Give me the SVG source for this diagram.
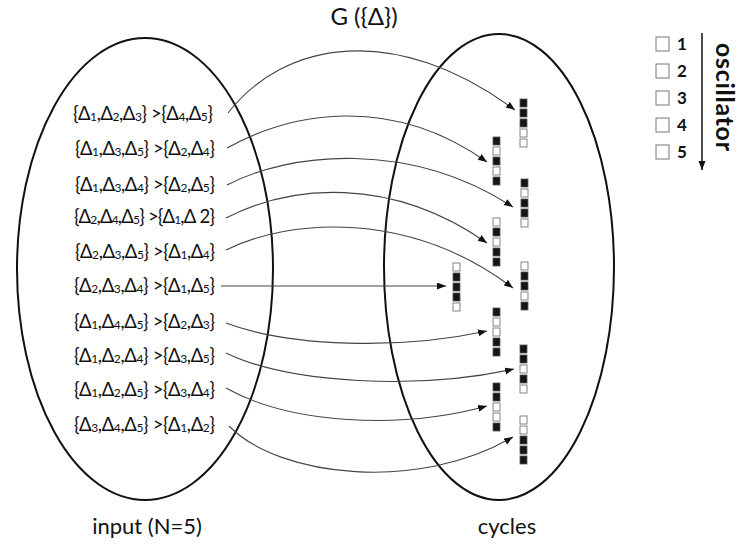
<svg xmlns="http://www.w3.org/2000/svg" xmlns:xlink="http://www.w3.org/1999/xlink" width="740" height="549" viewBox="0 0 740 549">
<style>
text{font-family:Lato,"Noto Sans","DejaVu Sans",sans-serif;fill:#111}
.f{font-size:18.5px}
.s{font-size:12px}
.lbl{font-size:22px}
.ttl{font-size:24px}
.dig{font-size:17px;font-weight:700}
.osc{font-size:25px;font-weight:700}
.ell{fill:none;stroke:#111;stroke-width:2}
.con path{fill:none;stroke:#444;stroke-width:1.1;marker-end:url(#ah)}
.k{fill:#151515;stroke:#555;stroke-width:0.8}
.w{fill:#fff;stroke:#666;stroke-width:0.8}
.lg{fill:#fff;stroke:#777;stroke-width:1}
</style>
<defs>
<marker id="ah" markerUnits="userSpaceOnUse" markerWidth="10" markerHeight="8" refX="9" refY="3.5" orient="auto"><path d="M0,0 L9,3.5 L0,7 z" fill="#111"/></marker>
<marker id="ah2" markerUnits="userSpaceOnUse" markerWidth="10" markerHeight="8" refX="9" refY="3.5" orient="auto"><path d="M0,0 L9,3.5 L0,7 z" fill="#111"/></marker>
<rect id="B" class="k" width="7" height="8"/>
<rect id="W" class="w" width="7" height="8"/>
</defs>

<text class="ttl" x="364" y="25" text-anchor="middle">G ({Δ})</text>

<ellipse id="input-set" class="ell" cx="145" cy="269" rx="128" ry="231"/>
<ellipse id="cycle-set" class="ell" cx="499" cy="267" rx="115" ry="233"/>

<text class="lbl" x="147" y="534" text-anchor="middle">input (N=5)</text>
<text class="lbl" x="507" y="534" text-anchor="middle">cycles</text>

<g id="inputs">
<g id="in1"><text class="f" x="73" y="120" textLength="140">{Δ<tspan class="s" dy="1">1</tspan><tspan dy="-1">,Δ</tspan><tspan class="s" dy="1">2</tspan><tspan dy="-1">,Δ</tspan><tspan class="s" dy="1">3</tspan><tspan dy="-1">} &gt;{Δ</tspan><tspan class="s" dy="1">4</tspan><tspan dy="-1">,Δ</tspan><tspan class="s" dy="1">5</tspan><tspan dy="-1">}</tspan></text></g>
<g id="in2"><text class="f" x="75" y="155" textLength="140">{Δ<tspan class="s" dy="1">1</tspan><tspan dy="-1">,Δ</tspan><tspan class="s" dy="1">3</tspan><tspan dy="-1">,Δ</tspan><tspan class="s" dy="1">5</tspan><tspan dy="-1">} &gt;{Δ</tspan><tspan class="s" dy="1">2</tspan><tspan dy="-1">,Δ</tspan><tspan class="s" dy="1">4</tspan><tspan dy="-1">}</tspan></text></g>
<g id="in3"><text class="f" x="75" y="191" textLength="140">{Δ<tspan class="s" dy="1">1</tspan><tspan dy="-1">,Δ</tspan><tspan class="s" dy="1">3</tspan><tspan dy="-1">,Δ</tspan><tspan class="s" dy="1">4</tspan><tspan dy="-1">} &gt;{Δ</tspan><tspan class="s" dy="1">2</tspan><tspan dy="-1">,Δ</tspan><tspan class="s" dy="1">5</tspan><tspan dy="-1">}</tspan></text></g>
<g id="in4"><text class="f" x="74" y="223" textLength="141">{Δ<tspan class="s" dy="1">2</tspan><tspan dy="-1">,Δ</tspan><tspan class="s" dy="1">4</tspan><tspan dy="-1">,Δ</tspan><tspan class="s" dy="1">5</tspan><tspan dy="-1">} &gt;{Δ</tspan><tspan class="s" dy="1">1</tspan><tspan dy="-1">,Δ 2}</tspan></text></g>
<g id="in5"><text class="f" x="75" y="258" textLength="140">{Δ<tspan class="s" dy="1">2</tspan><tspan dy="-1">,Δ</tspan><tspan class="s" dy="1">3</tspan><tspan dy="-1">,Δ</tspan><tspan class="s" dy="1">5</tspan><tspan dy="-1">} &gt;{Δ</tspan><tspan class="s" dy="1">1</tspan><tspan dy="-1">,Δ</tspan><tspan class="s" dy="1">4</tspan><tspan dy="-1">}</tspan></text></g>
<g id="in6"><text class="f" x="74" y="292" textLength="141">{Δ<tspan class="s" dy="1">2</tspan><tspan dy="-1">,Δ</tspan><tspan class="s" dy="1">3</tspan><tspan dy="-1">,Δ</tspan><tspan class="s" dy="1">4</tspan><tspan dy="-1">} &gt;{Δ</tspan><tspan class="s" dy="1">1</tspan><tspan dy="-1">,Δ</tspan><tspan class="s" dy="1">5</tspan><tspan dy="-1">}</tspan></text></g>
<g id="in7"><text class="f" x="74" y="328" textLength="141">{Δ<tspan class="s" dy="1">1</tspan><tspan dy="-1">,Δ</tspan><tspan class="s" dy="1">4</tspan><tspan dy="-1">,Δ</tspan><tspan class="s" dy="1">5</tspan><tspan dy="-1">} &gt;{Δ</tspan><tspan class="s" dy="1">2</tspan><tspan dy="-1">,Δ</tspan><tspan class="s" dy="1">3</tspan><tspan dy="-1">}</tspan></text></g>
<g id="in8"><text class="f" x="74" y="362" textLength="141">{Δ<tspan class="s" dy="1">1</tspan><tspan dy="-1">,Δ</tspan><tspan class="s" dy="1">2</tspan><tspan dy="-1">,Δ</tspan><tspan class="s" dy="1">4</tspan><tspan dy="-1">} &gt;{Δ</tspan><tspan class="s" dy="1">3</tspan><tspan dy="-1">,Δ</tspan><tspan class="s" dy="1">5</tspan><tspan dy="-1">}</tspan></text></g>
<g id="in9"><text class="f" x="74" y="396" textLength="141">{Δ<tspan class="s" dy="1">1</tspan><tspan dy="-1">,Δ</tspan><tspan class="s" dy="1">2</tspan><tspan dy="-1">,Δ</tspan><tspan class="s" dy="1">5</tspan><tspan dy="-1">} &gt;{Δ</tspan><tspan class="s" dy="1">3</tspan><tspan dy="-1">,Δ</tspan><tspan class="s" dy="1">4</tspan><tspan dy="-1">}</tspan></text></g>
<g id="in10"><text class="f" x="74" y="431" textLength="141">{Δ<tspan class="s" dy="1">3</tspan><tspan dy="-1">,Δ</tspan><tspan class="s" dy="1">4</tspan><tspan dy="-1">,Δ</tspan><tspan class="s" dy="1">5</tspan><tspan dy="-1">} &gt;{Δ</tspan><tspan class="s" dy="1">1</tspan><tspan dy="-1">,Δ</tspan><tspan class="s" dy="1">2</tspan><tspan dy="-1">}</tspan></text></g>
</g>

<g id="cycles">
<g id="cA1" transform="translate(520,99)"><use href="#B"/><use href="#B" y="10"/><use href="#B" y="20"/><use href="#W" y="30"/><use href="#W" y="40"/></g>
<g id="cB1" transform="translate(493,137)"><use href="#B"/><use href="#W" y="10"/><use href="#B" y="20"/><use href="#W" y="30"/><use href="#B" y="40"/></g>
<g id="cA2" transform="translate(521,179)"><use href="#B"/><use href="#W" y="10"/><use href="#B" y="20"/><use href="#B" y="30"/><use href="#W" y="40"/></g>
<g id="cB2" transform="translate(493,218)"><use href="#W"/><use href="#B" y="10"/><use href="#W" y="20"/><use href="#B" y="30"/><use href="#B" y="40"/></g>
<g id="cA3" transform="translate(521,262)"><use href="#W"/><use href="#B" y="10"/><use href="#B" y="20"/><use href="#W" y="30"/><use href="#B" y="40"/></g>
<g id="cC" transform="translate(453,263)"><use href="#W"/><use href="#B" y="10"/><use href="#B" y="20"/><use href="#B" y="30"/><use href="#W" y="40"/></g>
<g id="cB3" transform="translate(493,308)"><use href="#B"/><use href="#W" y="10"/><use href="#W" y="20"/><use href="#B" y="30"/><use href="#B" y="40"/></g>
<g id="cA4" transform="translate(520,345)"><use href="#B"/><use href="#B" y="10"/><use href="#W" y="20"/><use href="#B" y="30"/><use href="#W" y="40"/></g>
<g id="cB4" transform="translate(493,383)"><use href="#B"/><use href="#B" y="10"/><use href="#W" y="20"/><use href="#W" y="30"/><use href="#B" y="40"/></g>
<g id="cA5" transform="translate(520,416)"><use href="#W"/><use href="#W" y="10"/><use href="#B" y="20"/><use href="#B" y="30"/><use href="#B" y="40"/></g>
</g>

<g id="connectors" class="con">
<path d="M228,113 C285,40 396,22 515,110"/>
<path d="M227,148 C290,113 390,93 487,162"/>
<path d="M227,185 C290,152 410,140 513,207"/>
<path d="M226,218 C290,185 390,175 487,243"/>
<path d="M226,250 C290,218 410,210 513,288"/>
<path d="M221,286 L446,286"/>
<path d="M226,323 C290,347 400,350 487,331"/>
<path d="M226,353 C290,384 420,390 514,369"/>
<path d="M226,388 C290,424 400,430 487,406"/>
<path d="M229,426 C280,478 420,492 513,437"/>
</g>

<g id="legend">
<rect class="lg" x="656" y="37" width="13" height="14"/>
<rect class="lg" x="656" y="64" width="13" height="14"/>
<rect class="lg" x="656" y="91" width="13" height="14"/>
<rect class="lg" x="656" y="118" width="13" height="14"/>
<rect class="lg" x="656" y="145" width="13" height="14"/>
<text class="dig" x="677" y="50">1</text>
<text class="dig" x="677" y="77">2</text>
<text class="dig" x="677" y="104">3</text>
<text class="dig" x="677" y="131">4</text>
<text class="dig" x="677" y="158">5</text>
<path d="M702,33 L702,170" stroke="#111" stroke-width="1.5" fill="none" marker-end="url(#ah2)"/>
<text class="osc" transform="translate(716,43) rotate(90)" textLength="108">oscillator</text>
</g>
</svg>
